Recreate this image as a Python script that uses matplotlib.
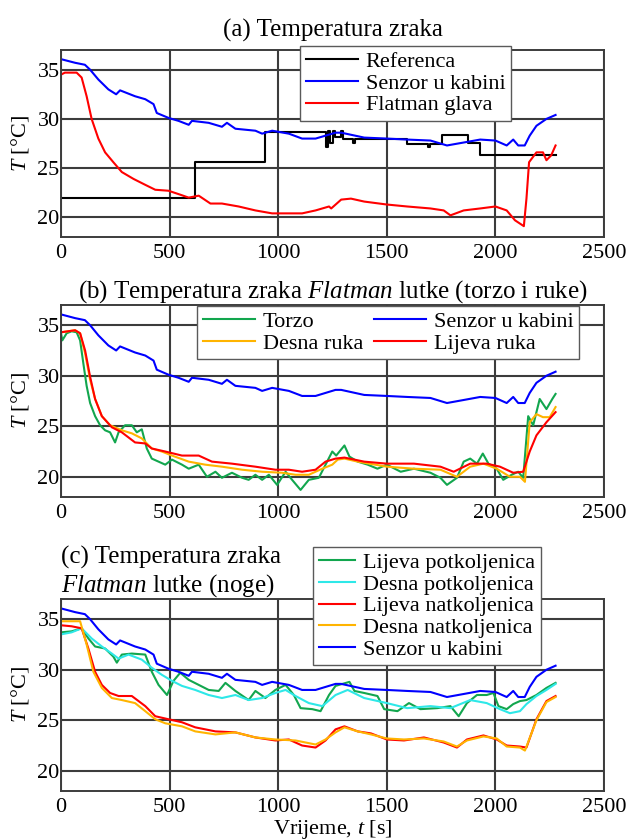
import numpy as np
import matplotlib
matplotlib.use('Agg')
import matplotlib.pyplot as plt

plt.rcParams['font.family'] = ['Liberation Serif', 'DejaVu Serif']
plt.rcParams['mathtext.fontset'] = 'custom'
plt.rcParams['mathtext.rm'] = 'Liberation Serif'
plt.rcParams['mathtext.it'] = 'Liberation Serif:italic'

# ---- data ----
t_cab = [0, 30, 65, 110, 134, 172, 218, 254, 272, 341, 388, 426, 441, 495, 541, 588, 603,
         680, 741, 764, 803, 895, 926, 972, 1049, 1110, 1172, 1218, 1264, 1290, 1396, 1500,
         1594, 1701, 1777, 1854, 1930, 2000, 2052, 2082, 2105, 2135, 2158, 2189, 2235, 2277]
T_cab = [36.07, 35.9, 35.7, 35.5, 35.0, 34.0, 33.0, 32.5, 32.9, 32.3, 32.0, 31.5, 30.6, 30.1,
         29.8, 29.4, 29.8, 29.6, 29.2, 29.6, 29.0, 28.8, 28.5, 28.8, 28.5, 28.0, 28.0, 28.3,
         28.6, 28.6, 28.1, 28.0, 27.9, 27.8, 27.3, 27.6, 27.9, 27.8, 27.3, 27.9, 27.3, 27.3,
         28.3, 29.3, 30.0, 30.4]

t_ref = [0, 618, 937, 1222, 1230, 1240, 1250, 1262, 1288, 1297, 1345, 1352, 1372, 1594,
         1690, 1700, 1755, 1876, 1930, 2277]
T_ref = [22.0, 25.6, 28.65, 27.1, 28.8, 27.6, 28.8, 28.2, 28.8, 28.0, 27.6, 28.0, 28.0,
         27.45, 27.1, 27.45, 28.35, 27.6, 26.3, 26.3]

t_head = [0, 18, 72, 95, 118, 141, 172, 203, 241, 280, 334, 388, 434, 495, 549, 588, 634,
          688, 741, 818, 895, 972, 1049, 1110, 1172, 1234, 1244, 1290, 1335, 1396, 1500,
          1594, 1701, 1762, 1793, 1854, 1930, 2000, 2052, 2090, 2131, 2143, 2155, 2189,
          2219, 2235, 2257, 2277]
T_head = [34.5, 34.7, 34.7, 34.2, 32.3, 30.0, 28.0, 26.6, 25.6, 24.6, 23.9, 23.3, 22.8,
          22.7, 22.3, 22.0, 22.2, 21.4, 21.4, 21.1, 20.7, 20.4, 20.4, 20.4, 20.7, 21.1,
          20.9, 21.8, 21.9, 21.6, 21.3, 21.1, 20.9, 20.7, 20.2, 20.7, 20.9, 21.1, 20.7,
          19.7, 19.1, 21.9, 25.6, 26.6, 26.6, 25.8, 26.3, 27.3]

t_torzo = [0, 6, 26, 49, 72, 88, 103, 118, 134, 157, 180, 203, 226, 249, 265, 295, 326,
           349, 372, 395, 418, 449, 480, 511, 557, 588, 634, 672, 711, 741, 787, 834, 864,
           895, 926, 957, 995, 1034, 1064, 1103, 1141, 1187, 1218, 1249, 1267, 1305, 1328,
           1366, 1412, 1457, 1500, 1564, 1625, 1701, 1747, 1777, 1823, 1854, 1884, 1915,
           1942, 1968, 2006, 2036, 2075, 2105, 2128, 2151, 2174, 2204, 2235, 2262, 2277]
T_torzo = [34.2, 33.5, 34.2, 34.4, 34.3, 33.5, 31.2, 29.0, 27.3, 26.0, 25.1, 24.6, 24.4,
           23.4, 24.4, 25.1, 25.1, 24.4, 24.7, 22.8, 21.8, 21.5, 21.2, 21.7, 21.2, 20.8,
           21.2, 20.0, 20.5, 19.9, 20.4, 19.9, 19.7, 20.2, 19.7, 20.2, 19.2, 20.5, 19.7,
           18.7, 19.7, 19.9, 21.2, 22.5, 22.1, 23.1, 22.0, 21.5, 21.2, 20.8, 21.2, 20.5,
           20.8, 20.4, 19.9, 19.2, 19.9, 21.5, 21.8, 21.3, 22.3, 21.3, 20.8, 19.7, 20.2,
           20.5, 19.9, 26.0, 25.1, 27.7, 26.7, 27.7, 28.2]

t_desna_ruka = [0, 65, 88, 111, 134, 157, 188, 226, 280, 326, 372, 418, 464, 511, 588, 664,
                741, 834, 926, 1018, 1080, 1141, 1203, 1249, 1274, 1305, 1366, 1500, 1625,
                1747, 1823, 1884, 1945, 2006, 2067, 2113, 2136, 2158, 2189, 2219, 2250, 2277]
T_desna_ruka = [34.3, 34.5, 34.2, 32.2, 29.6, 27.7, 26.0, 25.1, 24.6, 24.3, 23.8, 22.8,
                22.5, 22.1, 21.5, 21.2, 21.0, 20.7, 20.5, 20.4, 20.2, 20.2, 20.8, 21.2,
                21.7, 21.8, 21.5, 21.0, 20.8, 20.7, 20.0, 21.0, 21.3, 20.8, 20.0, 20.0,
                19.5, 25.4, 26.2, 25.9, 25.9, 26.9]

t_lijeva_ruka = [0, 65, 88, 111, 134, 157, 188, 234, 280, 341, 388, 418, 480, 557, 634, 695,
                 787, 895, 987, 1049, 1110, 1172, 1218, 1264, 1305, 1396, 1500, 1625, 1747,
                 1808, 1884, 1960, 2021, 2082, 2128, 2158, 2189, 2235, 2277]
T_lijeva_ruka = [34.3, 34.5, 34.2, 32.5, 29.9, 27.7, 26.0, 24.9, 24.4, 23.4, 23.3, 22.8,
                 22.5, 22.1, 22.1, 21.5, 21.3, 21.0, 20.7, 20.7, 20.5, 20.7, 21.5, 21.8,
                 21.9, 21.5, 21.3, 21.3, 21.0, 20.5, 21.3, 21.3, 21.0, 20.4, 20.5, 22.5,
                 24.1, 25.4, 26.4]

t_lp = [0, 49, 95, 126, 157, 203, 241, 257, 280, 326, 388, 418, 449, 488, 518, 549, 588,
        634, 680, 726, 757, 803, 864, 895, 941, 987, 1034, 1072, 1103, 1157, 1195, 1234,
        1264, 1328, 1351, 1396, 1457, 1488, 1549, 1602, 1655, 1732, 1793, 1831, 1869, 1915,
        1960, 1991, 2014, 2052, 2082, 2113, 2143, 2189, 2235, 2277]
T_lp = [33.7, 33.8, 34.1, 33.1, 32.3, 32.1, 31.3, 30.7, 31.5, 31.6, 31.5, 29.8, 28.5, 27.5,
        28.9, 29.7, 29.0, 28.5, 28.0, 27.9, 28.7, 27.9, 27.0, 27.9, 27.2, 28.0, 28.5, 27.5,
        26.2, 26.1, 25.9, 27.5, 28.4, 28.8, 27.9, 27.7, 27.4, 26.1, 25.9, 26.7, 26.1, 26.2,
        26.4, 25.4, 26.7, 27.5, 27.5, 27.7, 26.4, 26.1, 26.6, 26.9, 27.0, 27.5, 28.2, 28.7]

t_dp = [0, 49, 95, 141, 188, 234, 265, 311, 372, 418, 464, 511, 557, 618, 680, 741, 803,
        864, 926, 987, 1034, 1080, 1141, 1203, 1264, 1320, 1396, 1500, 1594, 1701, 1793,
        1884, 1960, 2021, 2067, 2113, 2143, 2189, 2235, 2277]
T_dp = [33.5, 33.7, 34.1, 33.1, 32.3, 31.6, 31.1, 31.5, 31.0, 30.2, 29.5, 28.9, 28.4, 28.0,
        27.5, 27.2, 27.5, 27.0, 27.2, 27.7, 28.0, 27.4, 26.7, 26.4, 27.5, 28.0, 27.2, 26.7,
        26.2, 26.4, 26.2, 27.0, 26.7, 26.1, 25.7, 25.9, 26.6, 27.4, 28.0, 28.6]

t_ln = [0, 49, 95, 126, 157, 188, 226, 265, 326, 388, 434, 495, 557, 618, 711, 803, 895,
        987, 1049, 1110, 1172, 1218, 1264, 1305, 1366, 1427, 1500, 1579, 1671, 1762, 1823,
        1869, 1945, 2006, 2052, 2113, 2143, 2189, 2235, 2277]
T_ln = [34.4, 34.3, 34.1, 32.1, 29.8, 28.5, 27.7, 27.4, 27.4, 26.4, 25.4, 25.1, 24.8, 24.3,
        23.9, 23.8, 23.3, 23.0, 23.1, 22.5, 22.3, 23.0, 24.1, 24.4, 23.9, 23.7, 23.1, 23.0,
        23.3, 22.8, 22.3, 23.1, 23.5, 23.1, 22.5, 22.4, 22.3, 25.1, 26.9, 27.4]

t_dn = [0, 49, 88, 118, 149, 188, 234, 280, 341, 388, 434, 480, 557, 618, 711, 803, 895,
        987, 1080, 1172, 1218, 1264, 1305, 1366, 1427, 1500, 1579, 1671, 1762, 1823, 1869,
        1945, 2006, 2052, 2113, 2136, 2189, 2235, 2277]
T_dn = [34.8, 34.8, 34.8, 32.5, 29.8, 28.2, 27.2, 27.0, 26.7, 25.9, 25.1, 24.7, 24.4, 23.9,
        23.6, 23.8, 23.3, 23.1, 23.0, 22.6, 23.1, 23.8, 24.3, 23.9, 23.6, 23.2, 23.1, 23.2,
        22.9, 22.4, 23.0, 23.4, 23.2, 22.4, 22.3, 22.0, 25.0, 26.8, 27.3]

blue, red, black = '#0000ff', '#ff0000', '#000000'
green, orange, cyan = '#12a64e', '#ffb400', '#2ee8e8'

W, H = 639, 840
fig = plt.figure(figsize=(W / 100, H / 100), dpi=100)

def px_axes(x0, y0, x1, y1):
    return fig.add_axes([x0 / W, 1 - y1 / H, (x1 - x0) / W, (y1 - y0) / H])

def style(ax):
    ax.set_xlim(0, 2500)
    ax.set_ylim(18, 37)
    ax.set_xticks([0, 500, 1000, 1500, 2000, 2500])
    ax.set_yticks([20, 25, 30, 35])
    ax.grid(True, color='#3c3c3c', linewidth=1.5)
    ax.set_axisbelow(True)
    ax.tick_params(length=0, labelsize=16)
    ax.tick_params(axis='x', pad=5)
    ax.tick_params(axis='y', pad=1)
    for s in ax.spines.values():
        s.set_color('#3c3c3c')
        s.set_linewidth(1.4)
    ax.set_ylabel('$T$ [°C]', fontsize=16)
    ax.yaxis.set_label_coords(-0.056, 0.5)

lw = 1.5
leg_kw = dict(fontsize=16, fancybox=False, edgecolor='#5a5a5a', framealpha=1,
              borderaxespad=0, handletextpad=0.35, labelspacing=0.05, borderpad=0.25)

# (a)
ax1 = px_axes(61, 50, 604, 237)
ax1.plot(t_ref, T_ref, color=black, lw=lw, drawstyle='steps-post', label='Referenca')
ax1.plot(t_cab, T_cab, color=blue, lw=lw, label='Senzor u kabini')
ax1.plot(t_head, T_head, color=red, lw=lw, label='Flatman glava')
style(ax1)
ax1.set_title('(a) Temperatura zraka', fontsize=18, pad=10)
l1 = ax1.legend(loc='upper left', bbox_to_anchor=(300 / W, 1 - 46 / H),
                bbox_transform=fig.transFigure, handlelength=2.35, **leg_kw)
l1.get_frame().set_linewidth(1.0)

# (b)
ax2 = px_axes(61, 305, 604, 497)
ax2.plot(t_torzo, T_torzo, color=green, lw=lw, label='Torzo')
ax2.plot(t_desna_ruka, T_desna_ruka, color=orange, lw=lw, label='Desna ruka')
ax2.plot(t_cab, T_cab, color=blue, lw=lw, label='Senzor u kabini')
ax2.plot(t_lijeva_ruka, T_lijeva_ruka, color=red, lw=lw, label='Lijeva ruka')
style(ax2)
ax2.set_title(r'(b) Temperatura zraka $\mathit{Flatman}$ lutke (torzo i ruke)',
              fontsize=18, pad=4)
l2 = ax2.legend(loc='upper left', bbox_to_anchor=(197 / W, 1 - 306 / H),
                bbox_transform=fig.transFigure, ncol=2, handlelength=2.35,
                columnspacing=0.5, **leg_kw)
l2.get_frame().set_linewidth(1.0)

# (c)
ax3 = px_axes(61, 599, 604, 791)
ax3.plot(t_lp, T_lp, color=green, lw=lw, label='Lijeva potkoljenica')
ax3.plot(t_dp, T_dp, color=cyan, lw=lw, label='Desna potkoljenica')
ax3.plot(t_ln, T_ln, color=red, lw=lw, label='Lijeva natkoljenica')
ax3.plot(t_dn, T_dn, color=orange, lw=lw, label='Desna natkoljenica')
ax3.plot(t_cab, T_cab, color=blue, lw=lw, label='Senzor u kabini')
style(ax3)
ax3.set_xlabel('Vrijeme, $t$ [s]', fontsize=16, labelpad=1)
fig.text(61 / W, 1 - 557 / H, '(c) Temperatura zraka', fontsize=18, ha='left', va='center')
fig.text(61 / W, 1 - 586 / H, r'$\mathit{Flatman}$ lutke (noge)', fontsize=18,
         ha='left', va='center')
l3 = ax3.legend(loc='upper left', bbox_to_anchor=(313 / W, 1 - 547 / H),
                bbox_transform=fig.transFigure, handlelength=1.65, **leg_kw)
l3.get_frame().set_linewidth(1.0)

fig.savefig('out.png', dpi=100)
